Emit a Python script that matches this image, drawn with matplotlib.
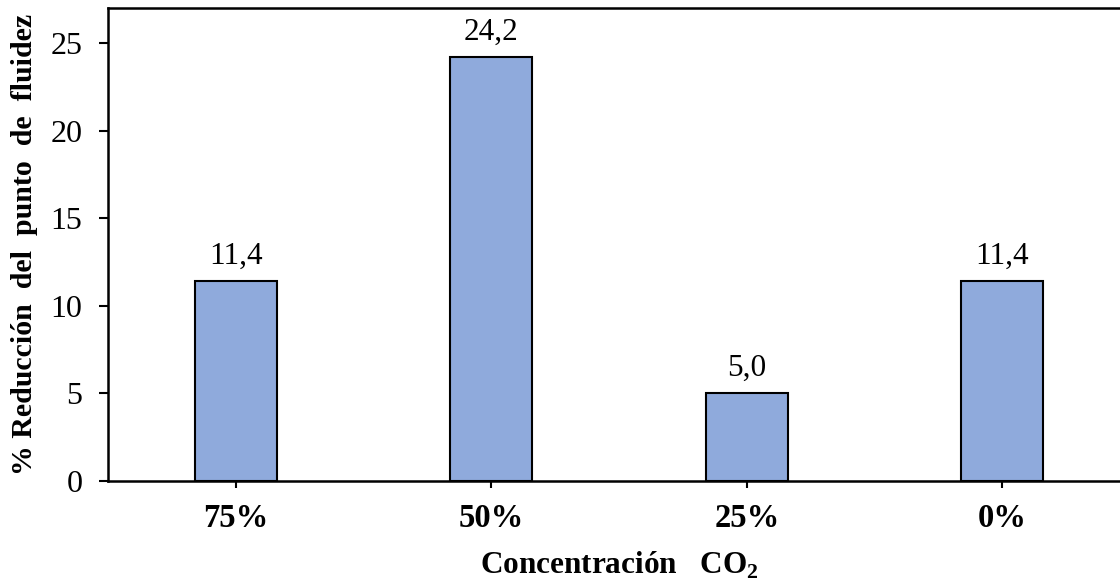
import matplotlib.pyplot as plt

plt.rcParams['font.family'] = ['Liberation Serif', 'DejaVu Serif']
plt.rcParams['mathtext.fontset'] = 'custom'
plt.rcParams['mathtext.rm'] = 'Liberation Serif'
plt.rcParams['mathtext.bf'] = 'Liberation Serif:bold'

# concentracion de CO2 y reduccion del punto de fluidez
categorias = ['75%', '50%', '25%', '0%']
reduccion = [11.4, 24.2, 5.0, 11.4]
etiquetas = ['11,4', '24,2', '5,0', '11,4']

fig = plt.figure(figsize=(11.2, 5.81), dpi=100)
ax = fig.add_axes([108 / 1120, 1 - 481 / 581, (1130 - 108) / 1120, (481 - 8) / 581])

x = range(len(categorias))
bars = ax.bar(x, reduccion, width=0.32, color='#8FAADC', edgecolor='black', linewidth=1.5)

for b, txt in zip(bars, etiquetas):
    ax.annotate(txt, (b.get_x() + b.get_width() / 2, b.get_height()),
                xytext=(0, 7.5), textcoords='offset points',
                ha='center', va='bottom', fontsize=22.5)

ax.set_xlim(-0.5, len(categorias) - 0.5)
ax.set_ylim(0, 27)
ax.set_yticks([0, 5, 10, 15, 20, 25])
ax.set_xticks(list(x))
ax.set_xticklabels(categorias, fontweight='bold')
ax.tick_params(axis='y', direction='out', length=6.5, width=1.5, labelsize=23, pad=12)
ax.tick_params(axis='x', direction='out', length=5, width=1.5, labelsize=23.5, pad=11)
for s in ax.spines.values():
    s.set_linewidth(1.8)

ax.set_ylabel('% Reducción  del  punto  de  fluidez', fontsize=21.5, fontweight='bold')
ax.yaxis.set_label_coords(-70 / 1022, 0.5)
ax.set_xlabel(r'Concentración   CO$_\mathbf{2}$', fontsize=22.5, fontweight='bold', labelpad=11)

fig.savefig('out.png', dpi=100)
